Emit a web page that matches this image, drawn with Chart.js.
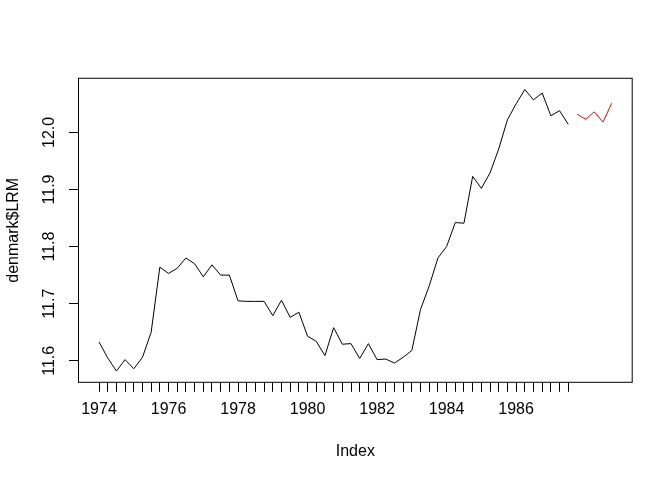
<!DOCTYPE html>
<html>
<head>
<meta charset="utf-8">
<script src="https://cdn.jsdelivr.net/npm/chart.js@4/dist/chart.umd.min.js"></script>
<style>
  body { margin: 0; background: #fff; }
  #wrap { width: 672px; height: 480px; }
</style>
</head>
<body>
<div id="wrap"><canvas id="chart" width="672" height="480"></canvas></div>
<script>
// denmark$LRM, quarterly
const lrmObserved = [
  11.633, 11.605, 11.582, 11.602, 11.586, 11.606, 11.650, 11.764,
  11.753, 11.762, 11.780, 11.770, 11.747, 11.768, 11.750, 11.750,
  11.705, 11.704, 11.704, 11.704, 11.679, 11.706, 11.676, 11.685,
  11.643, 11.634, 11.609, 11.658, 11.629, 11.630, 11.604, 11.630,
  11.602, 11.603, 11.596, 11.606, 11.618, 11.690, 11.731, 11.780,
  11.800, 11.842, 11.841, 11.923, 11.902, 11.929, 11.971, 12.022,
  12.050, 12.075, 12.057, 12.069, 12.029, 12.038, 12.014
]
// red segment after the observed series
const lrmPredicted = [12.032, 12.023, 12.036, 12.018, 12.051]

const yearTicks = ['1974', '1976', '1978', '1980', '1982', '1984', '1986']
const yTicks = [11.6, 11.7, 11.8, 11.9, 12.0]

const font = { family: "'Liberation Sans', Arial, sans-serif", size: 16 }

const observedPts = lrmObserved.map((v, i) => ({ x: i + 1, y: v }))
const predictedPts = lrmPredicted.map((v, i) => ({ x: lrmObserved.length + i + 1, y: v }))
const nAll = lrmObserved.length + lrmPredicted.length

// R style range: data range padded by 4% each side
const allVals = lrmObserved.concat(lrmPredicted)
const yLo = Math.min(...allVals), yHi = Math.max(...allVals)
const yPad = (yHi - yLo) * 0.04
const xPad = (nAll - 1) * 0.04

const boxPlugin = {
  id: 'box',
  afterDraw(chart) {
    const { ctx, chartArea: a } = chart
    ctx.save()
    ctx.strokeStyle = '#000'
    ctx.lineWidth = 1
    ctx.strokeRect(a.left, a.top, a.right - a.left, a.bottom - a.top)
    ctx.restore()
  }
}

new Chart('chart', {
  type: 'line',
  data: {
    datasets: [{
      data: observedPts,
      borderColor: '#000',
      borderWidth: 1,
      pointRadius: 0,
      tension: 0,
      fill: false
    }, {
      data: predictedPts,
      borderColor: '#ff0000',
      borderWidth: 1,
      pointRadius: 0,
      tension: 0,
      fill: false
    }]
  },
  options: {
    responsive: false,
    animation: false,
    devicePixelRatio: 1,
    layout: { padding: { left: 0, right: 39.8, top: 78.3, bottom: 0 } },
    plugins: { legend: { display: false }, tooltip: { enabled: false } },
    scales: {
      x: {
        type: 'linear',
        min: 1 - xPad,
        max: nAll + xPad,
        afterBuildTicks: s => { s.ticks = lrmObserved.map((v, i) => ({ value: i + 1 })) },
        afterFit: s => { s.height = 97.7 },
        border: { display: false },
        grid: { drawOnChartArea: false, drawTicks: true, tickLength: 9.5, color: '#000', lineWidth: 1 },
        ticks: {
          autoSkip: false, maxRotation: 0, minRotation: 0, padding: 8,
          color: '#000', font: font,
          callback: v => ((v - 1) % 8 === 0 ? yearTicks[(v - 1) / 8] : '')
        },
        title: { display: true, text: 'Index', color: '#000', font: font, padding: { top: 4, bottom: 19 } }
      },
      y: {
        type: 'linear',
        min: yLo - yPad,
        max: yHi + yPad,
        afterBuildTicks: s => { s.ticks = yTicks.map(v => ({ value: v })) },
        afterFit: s => { s.width = 78.5 },
        border: { display: false },
        grid: { drawOnChartArea: false, drawTicks: true, tickLength: 9.5, color: '#000', lineWidth: 1 },
        ticks: {
          minRotation: 90, maxRotation: 90, crossAlign: 'center', padding: 4,
          color: '#000', font: font,
          callback: v => v.toFixed(1)
        },
        title: { display: true, text: 'denmark$LRM', color: '#000', font: font, padding: { top: 4, bottom: 4 } }
      }
    }
  },
  plugins: [boxPlugin]
})
</script>
</body>
</html>
